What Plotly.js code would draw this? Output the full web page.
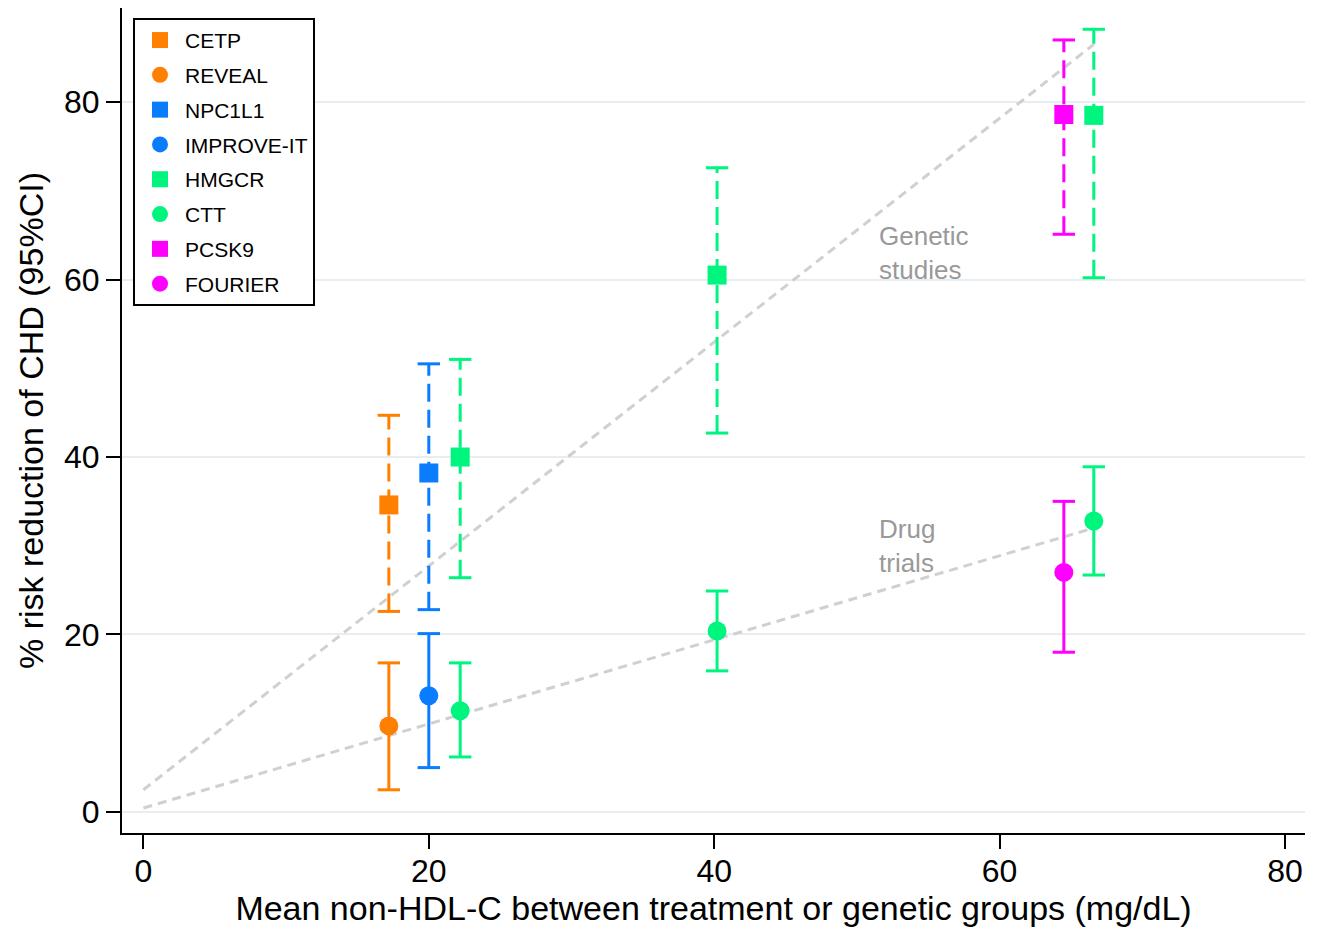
<!DOCTYPE html>
<html>
<head>
<meta charset="utf-8">
<script src="https://cdn.plot.ly/plotly-3.0.1.min.js"></script>
<style>html,body{margin:0;padding:0;background:#fff;}#chart{width:1319px;height:928px;}</style>
</head>
<body>
<div id="chart"></div>
<script>
// ---- data ----
const labels = ['CETP', 'REVEAL', 'NPC1L1', 'IMPROVE-IT', 'HMGCR', 'CTT', 'PCSK9', 'FOURIER'];
const symbols = ['square', 'circle', 'square', 'circle', 'square', 'circle', 'square', 'circle'];
const colors = ['#FF8000', '#FF8000', '#0A7DFF', '#0A7DFF', '#00F57F', '#00F57F', '#FF00FF', '#FF00FF'];
const xVals  = [[17.2], [17.2], [20.0], [20.0], [22.2, 40.2, 66.6], [22.2, 40.2, 66.6], [64.5], [64.5]];
const yVals  = [[34.6], [9.7],  [38.2], [13.1], [40.0, 60.5, 78.5], [11.4, 20.4, 32.8], [78.6], [27.0]];
const loVals = [[22.6], [2.5],  [22.8], [5.0],  [26.4, 42.7, 60.2], [6.2, 15.9, 26.7],  [65.1], [18.0]];
const hiVals = [[44.7], [16.8], [50.5], [20.1], [51.0, 72.6, 88.2], [16.8, 24.9, 38.9], [87.0], [35.0]];

const geneticLineX = [0, 66.6];
const geneticLineY = [2.5, 86.5];
const drugLineX = [0, 66.6];
const drugLineY = [0.45, 32.0];

const xTicks = [0, 20, 40, 60, 80];
const yTicks = [0, 20, 40, 60, 80];

const FONT = 'Liberation Sans, Arial, Helvetica, sans-serif';
const traces = [];

// fitted dashed grey lines
traces.push({x: geneticLineX, y: geneticLineY, mode: 'lines', showlegend: false, hoverinfo: 'skip',
  line: {color: '#D0D0D0', width: 3, dash: '9px,6px'}});
traces.push({x: drugLineX, y: drugLineY, mode: 'lines', showlegend: false, hoverinfo: 'skip',
  line: {color: '#D0D0D0', width: 3, dash: '9px,6px'}});

// confidence intervals (dashed for genetic studies / squares, solid for trials / circles)
labels.forEach((name, i) => {
  xVals[i].forEach((xv, j) => {
    traces.push({
      x: [xv, xv], y: [loVals[i][j], hiVals[i][j]],
      mode: 'lines+markers', showlegend: false, hoverinfo: 'skip',
      line: {color: colors[i], width: 3, dash: symbols[i] === 'square' ? '18px,8px' : 'solid'},
      marker: {symbol: 'line-ew', size: 16, color: colors[i], line: {color: colors[i], width: 3}}
    });
  });
});

// point estimates
labels.forEach((name, i) => {
  traces.push({
    x: xVals[i], y: yVals[i], name: name, legendgroup: name,
    mode: 'markers', type: 'scatter',
    marker: {symbol: symbols[i], size: 19, color: colors[i], line: {width: 0}}
  });
});

const layout = {
  width: 1319, height: 928,
  margin: {l: 122, r: 14, t: 8, b: 95},
  paper_bgcolor: '#fff', plot_bgcolor: '#fff',
  font: {family: FONT, color: '#000'},
  showlegend: true,
  legend: {
    x: 0.0093, y: 0.988, xanchor: 'left', yanchor: 'top',
    bordercolor: '#000', borderwidth: 2, bgcolor: '#fff',
    font: {family: FONT, size: 21, color: '#000'},
    tracegroupgap: 4.5, itemwidth: 40
  },
  xaxis: {
    range: [-1.5, 81.4], tickvals: xTicks, ticktext: xTicks.map(String),
    showgrid: false, zeroline: false,
    showline: true, linecolor: '#000', linewidth: 2,
    ticks: 'outside', ticklen: 14, tickwidth: 2, tickcolor: '#000',
    tickfont: {family: FONT, size: 32}, ticklabelstandoff: -5,
    title: {text: 'Mean non-HDL-C between treatment or genetic groups (mg/dL)', font: {family: FONT, size: 34}, standoff: 6}
  },
  yaxis: {
    range: [-2.37, 90.6], tickvals: yTicks, ticktext: yTicks.map(String),
    showgrid: true, gridcolor: '#E6EEF1', gridwidth: 2, zeroline: false,
    showline: true, linecolor: '#000', linewidth: 2,
    ticks: 'outside', ticklen: 14, tickwidth: 2, tickcolor: '#000',
    tickfont: {family: FONT, size: 32},
    title: {text: '% risk reduction of CHD (95%CI)', font: {family: FONT, size: 34}, standoff: 10}
  },
  annotations: [
    {x: 51.4, y: 63, xref: 'x', yref: 'y', xanchor: 'left', yanchor: 'middle', align: 'left',
     text: 'Genetic<br>studies', showarrow: false, font: {family: FONT, size: 26, color: '#999999'}},
    {x: 51.4, y: 30, xref: 'x', yref: 'y', xanchor: 'left', yanchor: 'middle', align: 'left',
     text: 'Drug<br>trials', showarrow: false, font: {family: FONT, size: 26, color: '#999999'}}
  ]
};

Plotly.newPlot('chart', traces, layout, {displayModeBar: false, staticPlot: true});
</script>
</body>
</html>
